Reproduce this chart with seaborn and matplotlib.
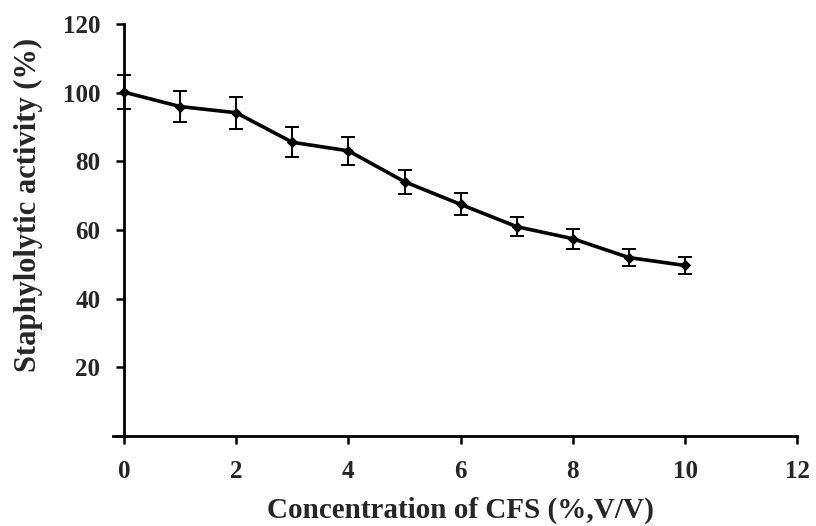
import matplotlib
matplotlib.use("Agg")
import matplotlib.pyplot as plt
import seaborn as sns
import pandas as pd

# Data
concentration = [0, 1, 2, 3, 4, 5, 6, 7, 8, 9, 10]
activity = [100.2, 96.0, 94.2, 85.6, 83.1, 74.1, 67.5, 61.0, 57.5, 52.0, 49.7]
error = [5.0, 4.6, 4.6, 4.4, 4.1, 3.5, 3.2, 2.8, 2.9, 2.5, 2.5]
x_ticks = [0, 2, 4, 6, 8, 10, 12]
y_ticks = [0, 20, 40, 60, 80, 100, 120]
y_tick_labels = ["", "20", "40", "60", "80", "100", "120"]

df = pd.DataFrame({"conc": concentration, "act": activity, "err": error})

sns.set_theme(style="white")
plt.rcParams['font.family'] = ['Liberation Serif', 'DejaVu Serif']
plt.rcParams['font.weight'] = 'bold'

fig = plt.figure(figsize=(8.16, 5.26), dpi=100)
ax = fig.add_axes([0.152, 0.171, 0.825, 0.783])

ax.errorbar(df["conc"], df["act"], yerr=df["err"], fmt="none", ecolor="black",
            elinewidth=1.4, capsize=5, capthick=1.4, zorder=2)
sns.lineplot(data=df, x="conc", y="act", ax=ax, color="black", linewidth=2.6,
             marker="D", markersize=5.5, markeredgecolor="black", zorder=3)

ax.set_xlim(0, 12)
ax.set_ylim(0, 120)
ax.set_xticks(x_ticks)
ax.set_yticks(y_ticks)
ax.set_yticklabels(y_tick_labels)
ax.set_xticklabels([str(t) for t in x_ticks])

for side in ["top", "right"]:
    ax.spines[side].set_visible(False)
for side in ["left", "bottom"]:
    ax.spines[side].set_visible(True)
    ax.spines[side].set_color("black")
    ax.spines[side].set_linewidth(2.0)
ax.spines["bottom"].set_bounds(-0.2, 12)

ax.tick_params(axis="both", direction="out", length=6, width=1.8, color="black",
               labelsize=18, pad=11, left=True, bottom=True)
for lab in ax.get_xticklabels() + ax.get_yticklabels():
    lab.set_fontweight("bold")

ax.set_xlabel("Concentration of CFS (%,V/V)", fontsize=21, fontweight="bold", labelpad=10)
ax.set_ylabel("Staphylolytic activity (%)", fontsize=22, fontweight="bold", labelpad=14)
ax.yaxis.label.set_y(0.56)
for art in ax.get_children():
    try:
        art.set_clip_on(False)
    except Exception:
        pass

fig.savefig("out.png", dpi=100, facecolor="white")
